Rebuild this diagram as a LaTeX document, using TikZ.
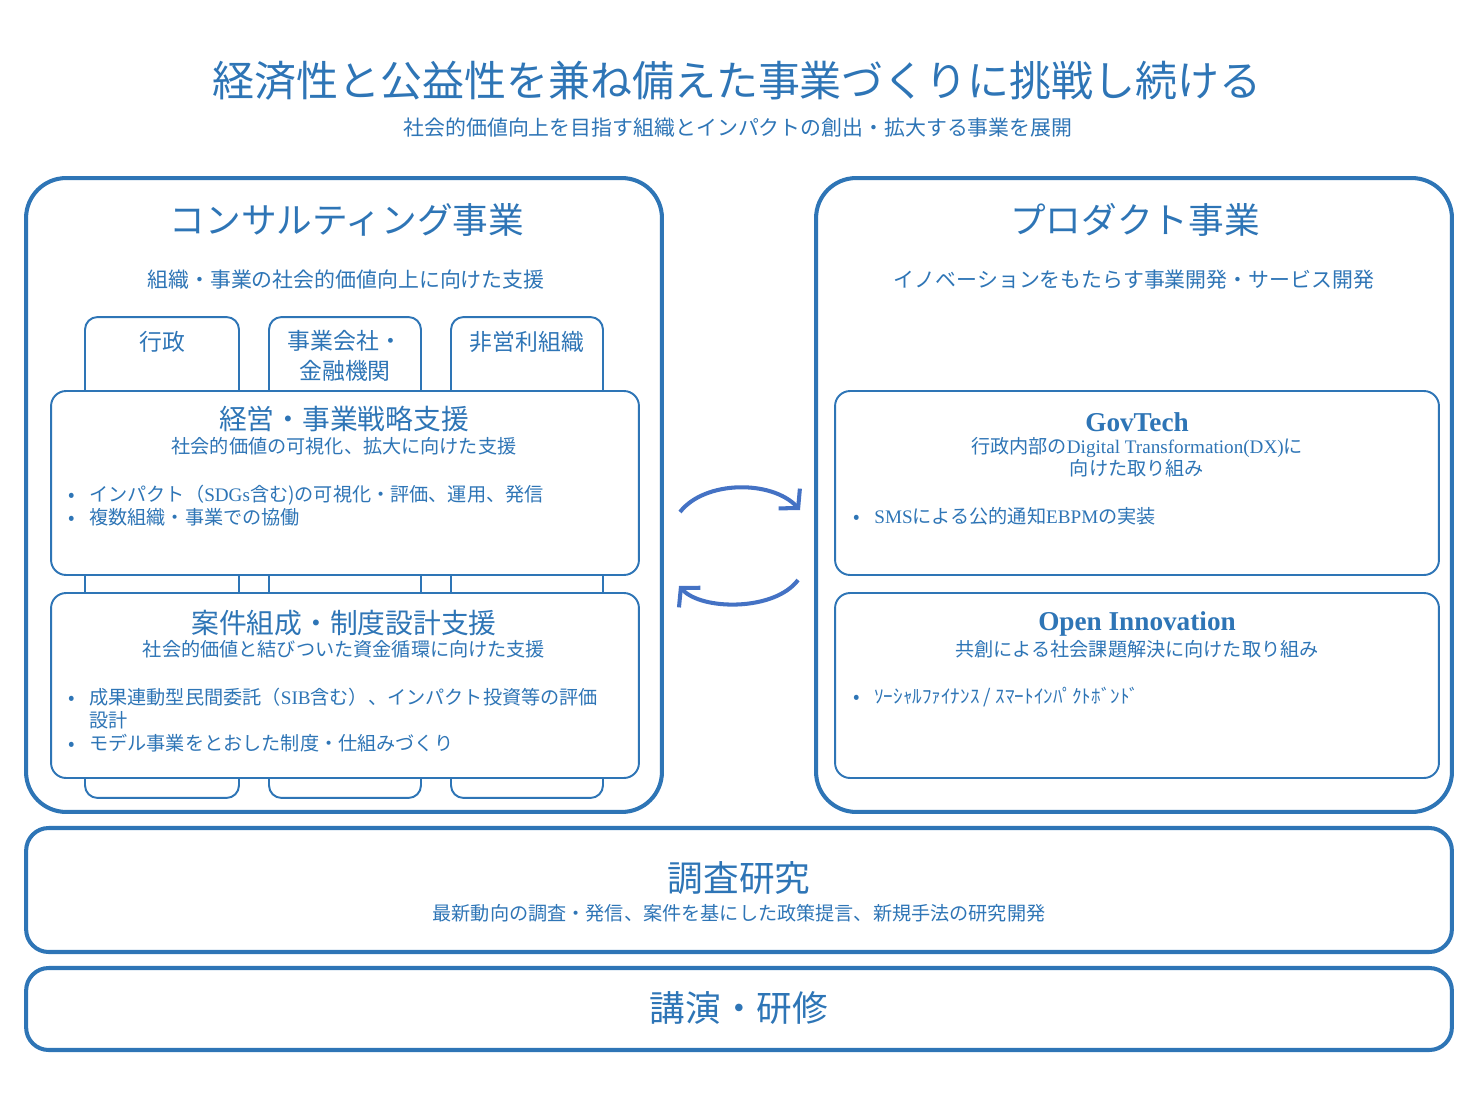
\documentclass[tikz,border=0pt]{standalone}
\usepackage{fontspec}
\setmainfont{Noto Sans CJK JP}
\newfontfamily\latinserif{Liberation Serif}
\newcommand{\latn}[1]{{\latinserif #1}}
\usetikzlibrary{arrows.meta}
\definecolor{mainblue}{RGB}{46,117,182}
\definecolor{arrowblue}{RGB}{68,114,196}
\tikzset{
  bigbox/.style={draw=mainblue, line width=2.3pt, rounded corners=0.8cm, fill=white, inner sep=0pt, minimum width=12.72cm, minimum height=12.68cm},
  tabbox/.style={draw=mainblue, line width=1.1pt, rounded corners=0.25cm, inner sep=0pt, minimum height=9.62cm},
  innerbox/.style={draw=mainblue, line width=1.1pt, rounded corners=0.3cm, fill=white, inner sep=0pt},
  bandbox/.style={draw=mainblue, line width=2.3pt, rounded corners=0.45cm, inner sep=0pt, minimum width=28.52cm},
  txt/.style={text=mainblue, inner sep=0pt, align=center},
  bullets/.style={text=mainblue, inner sep=0pt, align=left, anchor=west, font=\fontsize{10.9}{13}\selectfont},
  flowarrow/.style={draw=arrowblue, line width=2.3pt, -{Straight Barb[length=2.6mm,width=5.8mm]}}
}
\newcommand{\bul}{\makebox[0.42cm][l]{•}}

\begin{document}
\begin{tikzpicture}[x=0.02cm, y=-0.02cm]
\useasboundingbox (0,0) rectangle (1476,1104);

\node[txt, font=\fontsize{23.9}{27}\selectfont] (title) at (737,81) {経済性と公益性を兼ね備えた事業づくりに挑戦し続ける};
\node[txt, font=\fontsize{11.9}{14}\selectfont] (subtitle) at (738,128) {社会的価値向上を目指す組織とインパクトの創出・拡大する事業を展開};

% consulting
\node[bigbox] (consult) at (344,495) {};
\node[txt, font=\fontsize{20.3}{23}\selectfont] (consultTitle) at (347,220) {コンサルティング事業};
\node[txt, font=\fontsize{11.9}{14}\selectfont] (consultSub) at (346,280) {組織・事業の社会的価値向上に向けた支援};

\node[tabbox, minimum width=3.08cm] (tabGov) at (162,557.5) {};
\node[tabbox, minimum width=3.04cm] (tabCorp) at (345,557.5) {};
\node[tabbox, minimum width=3.04cm] (tabNpo) at (527,557.5) {};
\node[txt, font=\fontsize{13}{17}\selectfont] (tabGovText) at (162,342) {行政};
\node[txt, font=\fontsize{13}{17}\selectfont, anchor=north] (tabCorpText) at (345,330) {事業会社・\\金融機関};
\node[txt, font=\fontsize{13}{17}\selectfont] (tabNpoText) at (527,342) {非営利組織};

\node[innerbox, minimum width=11.76cm, minimum height=3.68cm] (strategy) at (345,483) {};
\node[txt, font=\fontsize{15.8}{18}\selectfont] (strategyTitle) at (344,419) {経営・事業戦略支援};
\node[txt, font=\fontsize{10.9}{13}\selectfont] (strategySub) at (344,446) {社会的価値の可視化、拡大に向けた支援};
\node[bullets] (strategyList) at (68,505.5) {\bul インパクト（\latn{SDGs}含む)の可視化・評価、運用、発信\\\bul 複数組織・事業での協働};

\node[innerbox, minimum width=11.76cm, minimum height=3.7cm] (design) at (345,685.5) {};
\node[txt, font=\fontsize{15.8}{18}\selectfont] (designTitle) at (344,623) {案件組成・制度設計支援};
\node[txt, font=\fontsize{10.9}{13}\selectfont] (designSub) at (344,649) {社会的価値と結びついた資金循環に向けた支援};
\node[bullets] (designList) at (68,720) {\bul 成果連動型民間委託（\latn{SIB}含む）、インパクト投資等の評価\\\hspace*{0.42cm}設計\\\bul モデル事業をとおした制度・仕組みづくり};

% product
\node[bigbox] (product) at (1134,495) {};
\node[txt, font=\fontsize{20.3}{23}\selectfont] (productTitle) at (1135,220) {プロダクト事業};
\node[txt, font=\fontsize{11.9}{14}\selectfont] (productSub) at (1134,280) {イノベーションをもたらす事業開発・サービス開発};

\node[innerbox, minimum width=12.08cm, minimum height=3.68cm] (govtech) at (1137,483) {};
\node[txt, font=\fontsize{15.5}{18}\latinserif\bfseries] (govtechTitle) at (1137,422) {GovTech};
\node[txt, font=\fontsize{10.9}{12.6}\selectfont, anchor=north] (govtechSub) at (1137,437) {行政内部の\latn{Digital Transformation(DX)}に\\向けた取り組み};
\node[bullets] (govtechList) at (853,516) {\bul \latn{SMS}による公的通知\latn{EBPM}の実装};

\node[innerbox, minimum width=12.08cm, minimum height=3.7cm] (openinno) at (1137,685.5) {};
\node[txt, font=\fontsize{15.5}{18}\latinserif\bfseries] (openinnoTitle) at (1137,624) {Open Innovation};
\node[txt, font=\fontsize{10.9}{13}\selectfont] (openinnoSub) at (1137,649) {共創による社会課題解決に向けた取り組み};
\node[bullets] (openinnoList) at (853,697) {\bul ｿｰｼｬﾙﾌｧｲﾅﾝｽ / ｽﾏｰﾄｲﾝﾊﾟｸﾄﾎﾞﾝﾄﾞ};

% arrows
\coordinate (toRightA) at (680,512);
\coordinate (toRightB) at (800,510);
\coordinate (toLeftA) at (798,580);
\coordinate (toLeftB) at (679,586);
\draw[flowarrow] (toRightA) .. controls (705,480) and (772,480) .. (toRightB);
\draw[flowarrow] (toLeftA) .. controls (775,611) and (702,611) .. (toLeftB);

% research, lectures
\node[bandbox, minimum height=2.48cm] (research) at (739,890) {};
\node[txt, font=\fontsize{20.3}{23}\selectfont] (researchTitle) at (739,878) {調査研究};
\node[txt, font=\fontsize{10.9}{13}\selectfont] (researchSub) at (739,913) {最新動向の調査・発信、案件を基にした政策提言、新規手法の研究開発};
\node[bandbox, minimum height=1.64cm] (lecture) at (739,1009) {};
\node[txt, font=\fontsize{20.3}{23}\selectfont] (lectureTitle) at (739,1008) {講演・研修};
\end{tikzpicture}
\end{document}
